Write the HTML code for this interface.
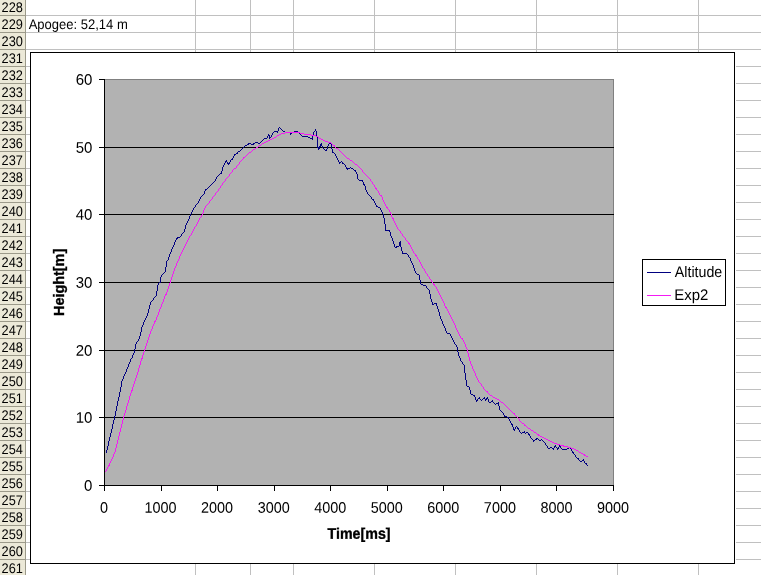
<!DOCTYPE html>
<html><head><meta charset="utf-8"><title>Chart</title>
<style>
html,body{margin:0;padding:0;background:#fff;overflow:hidden}
svg{display:block;will-change:transform}
text{font-family:"Liberation Sans",sans-serif;fill:#000}
.h,.c{font-size:13.97px}
.ax{font-size:15.36px}
.b{font-size:15.36px;font-weight:bold;stroke:#000;stroke-width:.35px}
</style></head><body>
<svg width="761" height="575" viewBox="0 0 761 575">
<rect x="0" y="0" width="761" height="575" fill="#fff"/>
<g fill="#C0C0C0" shape-rendering="crispEdges">
<rect x="26" y="15" width="735" height="1"/><rect x="26" y="32" width="735" height="1"/><rect x="26" y="49" width="735" height="1"/><rect x="26" y="66" width="735" height="1"/><rect x="26" y="83" width="735" height="1"/><rect x="26" y="100" width="735" height="1"/><rect x="26" y="117" width="735" height="1"/><rect x="26" y="134" width="735" height="1"/><rect x="26" y="151" width="735" height="1"/><rect x="26" y="168" width="735" height="1"/><rect x="26" y="185" width="735" height="1"/><rect x="26" y="202" width="735" height="1"/><rect x="26" y="219" width="735" height="1"/><rect x="26" y="236" width="735" height="1"/><rect x="26" y="253" width="735" height="1"/><rect x="26" y="270" width="735" height="1"/><rect x="26" y="287" width="735" height="1"/><rect x="26" y="304" width="735" height="1"/><rect x="26" y="321" width="735" height="1"/><rect x="26" y="338" width="735" height="1"/><rect x="26" y="355" width="735" height="1"/><rect x="26" y="372" width="735" height="1"/><rect x="26" y="389" width="735" height="1"/><rect x="26" y="406" width="735" height="1"/><rect x="26" y="423" width="735" height="1"/><rect x="26" y="440" width="735" height="1"/><rect x="26" y="457" width="735" height="1"/><rect x="26" y="474" width="735" height="1"/><rect x="26" y="491" width="735" height="1"/><rect x="26" y="508" width="735" height="1"/><rect x="26" y="525" width="735" height="1"/><rect x="26" y="542" width="735" height="1"/><rect x="26" y="559" width="735" height="1"/>
<rect x="195" y="0" width="1" height="575"/><rect x="250" y="0" width="1" height="575"/><rect x="293" y="0" width="1" height="575"/><rect x="374" y="0" width="1" height="575"/><rect x="455" y="0" width="1" height="575"/><rect x="536" y="0" width="1" height="575"/><rect x="617" y="0" width="1" height="575"/><rect x="698" y="0" width="1" height="575"/>
</g>
<rect x="0" y="0" width="25" height="575" fill="#ECE9D8"/>
<g fill="#9C9A8A" shape-rendering="crispEdges">
<rect x="25" y="0" width="1" height="575"/><rect x="0" y="15" width="25" height="1"/><rect x="0" y="32" width="25" height="1"/><rect x="0" y="49" width="25" height="1"/><rect x="0" y="66" width="25" height="1"/><rect x="0" y="83" width="25" height="1"/><rect x="0" y="100" width="25" height="1"/><rect x="0" y="117" width="25" height="1"/><rect x="0" y="134" width="25" height="1"/><rect x="0" y="151" width="25" height="1"/><rect x="0" y="168" width="25" height="1"/><rect x="0" y="185" width="25" height="1"/><rect x="0" y="202" width="25" height="1"/><rect x="0" y="219" width="25" height="1"/><rect x="0" y="236" width="25" height="1"/><rect x="0" y="253" width="25" height="1"/><rect x="0" y="270" width="25" height="1"/><rect x="0" y="287" width="25" height="1"/><rect x="0" y="304" width="25" height="1"/><rect x="0" y="321" width="25" height="1"/><rect x="0" y="338" width="25" height="1"/><rect x="0" y="355" width="25" height="1"/><rect x="0" y="372" width="25" height="1"/><rect x="0" y="389" width="25" height="1"/><rect x="0" y="406" width="25" height="1"/><rect x="0" y="423" width="25" height="1"/><rect x="0" y="440" width="25" height="1"/><rect x="0" y="457" width="25" height="1"/><rect x="0" y="474" width="25" height="1"/><rect x="0" y="491" width="25" height="1"/><rect x="0" y="508" width="25" height="1"/><rect x="0" y="525" width="25" height="1"/><rect x="0" y="542" width="25" height="1"/><rect x="0" y="559" width="25" height="1"/>
</g>
<text class="h" text-anchor="middle" transform="translate(12.25 12.00) rotate(0.05) scale(0.9163 1)">228</text><text class="h" text-anchor="middle" transform="translate(12.25 29.00) rotate(0.05) scale(0.9163 1)">229</text><text class="h" text-anchor="middle" transform="translate(12.25 46.00) rotate(0.05) scale(0.9163 1)">230</text><text class="h" text-anchor="middle" transform="translate(12.25 63.00) rotate(0.05) scale(0.9163 1)">231</text><text class="h" text-anchor="middle" transform="translate(12.25 80.00) rotate(0.05) scale(0.9163 1)">232</text><text class="h" text-anchor="middle" transform="translate(12.25 97.00) rotate(0.05) scale(0.9163 1)">233</text><text class="h" text-anchor="middle" transform="translate(12.25 114.00) rotate(0.05) scale(0.9163 1)">234</text><text class="h" text-anchor="middle" transform="translate(12.25 131.00) rotate(0.05) scale(0.9163 1)">235</text><text class="h" text-anchor="middle" transform="translate(12.25 148.00) rotate(0.05) scale(0.9163 1)">236</text><text class="h" text-anchor="middle" transform="translate(12.25 165.00) rotate(0.05) scale(0.9163 1)">237</text><text class="h" text-anchor="middle" transform="translate(12.25 182.00) rotate(0.05) scale(0.9163 1)">238</text><text class="h" text-anchor="middle" transform="translate(12.25 199.00) rotate(0.05) scale(0.9163 1)">239</text><text class="h" text-anchor="middle" transform="translate(12.25 216.00) rotate(0.05) scale(0.9163 1)">240</text><text class="h" text-anchor="middle" transform="translate(12.25 233.00) rotate(0.05) scale(0.9163 1)">241</text><text class="h" text-anchor="middle" transform="translate(12.25 250.00) rotate(0.05) scale(0.9163 1)">242</text><text class="h" text-anchor="middle" transform="translate(12.25 267.00) rotate(0.05) scale(0.9163 1)">243</text><text class="h" text-anchor="middle" transform="translate(12.25 284.00) rotate(0.05) scale(0.9163 1)">244</text><text class="h" text-anchor="middle" transform="translate(12.25 301.00) rotate(0.05) scale(0.9163 1)">245</text><text class="h" text-anchor="middle" transform="translate(12.25 318.00) rotate(0.05) scale(0.9163 1)">246</text><text class="h" text-anchor="middle" transform="translate(12.25 335.00) rotate(0.05) scale(0.9163 1)">247</text><text class="h" text-anchor="middle" transform="translate(12.25 352.00) rotate(0.05) scale(0.9163 1)">248</text><text class="h" text-anchor="middle" transform="translate(12.25 369.00) rotate(0.05) scale(0.9163 1)">249</text><text class="h" text-anchor="middle" transform="translate(12.25 386.00) rotate(0.05) scale(0.9163 1)">250</text><text class="h" text-anchor="middle" transform="translate(12.25 403.00) rotate(0.05) scale(0.9163 1)">251</text><text class="h" text-anchor="middle" transform="translate(12.25 420.00) rotate(0.05) scale(0.9163 1)">252</text><text class="h" text-anchor="middle" transform="translate(12.25 437.00) rotate(0.05) scale(0.9163 1)">253</text><text class="h" text-anchor="middle" transform="translate(12.25 454.00) rotate(0.05) scale(0.9163 1)">254</text><text class="h" text-anchor="middle" transform="translate(12.25 471.00) rotate(0.05) scale(0.9163 1)">255</text><text class="h" text-anchor="middle" transform="translate(12.25 488.00) rotate(0.05) scale(0.9163 1)">256</text><text class="h" text-anchor="middle" transform="translate(12.25 505.00) rotate(0.05) scale(0.9163 1)">257</text><text class="h" text-anchor="middle" transform="translate(12.25 522.00) rotate(0.05) scale(0.9163 1)">258</text><text class="h" text-anchor="middle" transform="translate(12.25 539.00) rotate(0.05) scale(0.9163 1)">259</text><text class="h" text-anchor="middle" transform="translate(12.25 556.00) rotate(0.05) scale(0.9163 1)">260</text><text class="h" text-anchor="middle" transform="translate(12.25 573.00) rotate(0.05) scale(0.9163 1)">261</text>
<text class="c" transform="translate(28.65 29.00) rotate(0.05) scale(0.9317 1)">Apogee: 52,14 m</text>
<rect x="30.5" y="52.5" width="704" height="511" fill="#fff" stroke="#000" stroke-width="1" shape-rendering="crispEdges"/>
<rect x="735" y="52" width="1" height="512" fill="#fff"/>
<rect x="104.5" y="79.5" width="509" height="406" fill="#B2B2B2" stroke="#808080" stroke-width="1" shape-rendering="crispEdges"/>
<g fill="#000" shape-rendering="crispEdges">
<rect x="99" y="485" width="5" height="1"/><rect x="104" y="417" width="510" height="1"/><rect x="99" y="417" width="5" height="1"/><rect x="104" y="350" width="510" height="1"/><rect x="99" y="350" width="5" height="1"/><rect x="104" y="282" width="510" height="1"/><rect x="99" y="282" width="5" height="1"/><rect x="104" y="214" width="510" height="1"/><rect x="99" y="214" width="5" height="1"/><rect x="104" y="147" width="510" height="1"/><rect x="99" y="147" width="5" height="1"/><rect x="99" y="79" width="5" height="1"/>
<rect x="104" y="79" width="1" height="407"/><rect x="104" y="485" width="510" height="1"/>
<rect x="104" y="485" width="1" height="6"/><rect x="161" y="485" width="1" height="6"/><rect x="217" y="485" width="1" height="6"/><rect x="274" y="485" width="1" height="6"/><rect x="330" y="485" width="1" height="6"/><rect x="387" y="485" width="1" height="6"/><rect x="443" y="485" width="1" height="6"/><rect x="500" y="485" width="1" height="6"/><rect x="556" y="485" width="1" height="6"/><rect x="613" y="485" width="1" height="6"/>
</g>
<path fill="none" stroke="#000080" stroke-width="1" shape-rendering="crispEdges" d="M274 131.5h4M283 131.5h2M294 131.5h4M285 132.5h5M292 132.5h2M290 133.5h2M268 135.5h2M302 136.5h6M269 137.5h2M308 137.5h2M264 138.5h3M310 138.5h3M255 142.5h3M329 142.5h2M248 143.5h3M253 143.5h2M258 143.5h2M329 143.5h2M247 144.5h2M251 144.5h3M320 144.5h2M245 145.5h2M320 145.5h2M319 146.5h2M317 147.5h3M318 148.5h2M325 150.5h2M238 151.5h2M332 152.5h2M236 153.5h2M234 154.5h2M231 159.5h2M225 161.5h2M339 162.5h2M227 163.5h3M342 163.5h2M346 168.5h4M351 168.5h2M354 170.5h2M220 173.5h2M359 180.5h4M363 184.5h2M205 189.5h2M372 199.5h2M376 206.5h2M378 207.5h2M385 230.5h5M177 237.5h3M176 238.5h2M399 242.5h2M399 243.5h2M399 244.5h2M399 245.5h2M396 246.5h3M395 247.5h2M402 253.5h5M417 274.5h2M159 282.5h2M421 284.5h2M423 285.5h3M434 303.5h3M432 304.5h2M447 333.5h3M467 386.5h2M471 394.5h2M473 395.5h2M478 398.5h2M483 398.5h2M486 398.5h2M485 399.5h2M476 400.5h2M491 401.5h2M489 402.5h2M496 403.5h3M504 416.5h3M507 417.5h2M511 424.5h2M517 428.5h2M513 429.5h2M522 432.5h3M526 432.5h2M528 434.5h2M536 438.5h2M535 439.5h2M533 440.5h2M539 440.5h2M554 446.5h2M559 446.5h2M550 447.5h2M548 448.5h2M552 448.5h2M557 448.5h2M567 448.5h2M562 449.5h5M572 452.5h2M577 458.5h2M582 460.5h2M580 461.5h2M585 463.5h2M106.5 450v3M107.5 446v4M108.5 441v5M109.5 437v4M110.5 433v4M111.5 429v4M112.5 424v5M113.5 420v4M114.5 416v4M115.5 411v5M116.5 406v5M117.5 401v5M118.5 397v4M119.5 392v5M120.5 387v5M121.5 381v6M122.5 379v2M123.5 376v3M124.5 374v2M125.5 372v2M126.5 369v3M127.5 367v2M128.5 364v3M129.5 362v2M130.5 359v3M131.5 358v1M132.5 355v3M133.5 353v2M134.5 349v4M135.5 344v5M136.5 342v2M137.5 341v1M138.5 339v2M139.5 336v3M140.5 332v4M141.5 327v5M142.5 325v2M143.5 322v3M144.5 320v2M145.5 318v2M146.5 316v2M147.5 313v3M148.5 309v4M149.5 305v4M150.5 302v3M151.5 301v1M152.5 300v1M153.5 298v2M154.5 297v1M155.5 296v1M156.5 291v5M157.5 285v6M158.5 283v2M160.5 277v5M161.5 275v2M162.5 274v1M163.5 273v1M164.5 272v1M165.5 267v5M166.5 261v6M167.5 260v1M168.5 257v3M169.5 254v3M170.5 252v2M171.5 249v3M172.5 247v2M173.5 245v2M174.5 242v3M175.5 240v2M176.5 239v1M180.5 236v1M181.5 234v2M182.5 233v1M183.5 232v1M184.5 229v3M185.5 225v4M186.5 223v2M187.5 221v2M188.5 219v2M189.5 216v3M190.5 214v2M191.5 212v2M192.5 210v2M193.5 208v2M194.5 207v1M195.5 205v2M196.5 204v1M197.5 203v1M198.5 201v2M199.5 199v2M200.5 197v2M201.5 196v1M202.5 195v1M203.5 194v1M204.5 191v3M205.5 190v1M207.5 188v1M208.5 187v1M209.5 186v1M210.5 185v1M211.5 184v1M212.5 183v1M213.5 182v1M214.5 181v1M215.5 179v2M216.5 177v2M217.5 176v1M218.5 175v1M219.5 174v1M221.5 171v2M222.5 167v4M223.5 165v2M224.5 163v2M225.5 162v1M226.5 160v1M227.5 162v1M228.5 164v1M229.5 162v1M230.5 160v2M232.5 158v1M233.5 156v2M234.5 155v1M237.5 152v1M240.5 150v1M241.5 149v1M242.5 148v1M243.5 147v1M244.5 146v1M260.5 142v1M261.5 141v1M262.5 140v1M263.5 139v1M267.5 136v2M268.5 134v1M269.5 136v1M269.5 138v1M271.5 135v2M272.5 133v2M273.5 132v1M277.5 132v1M278.5 128v3M279.5 127v1M280.5 128v1M281.5 129v1M282.5 130v1M290.5 134v1M298.5 132v1M299.5 133v1M300.5 134v1M301.5 135v1M312.5 136v2M312.5 139v1M313.5 132v4M314.5 131v1M315.5 129v2M316.5 131v6M317.5 137v10M318.5 149v1M321.5 143v1M322.5 146v2M323.5 148v1M324.5 149v1M326.5 149v1M327.5 146v3M328.5 144v2M331.5 144v5M332.5 149v3M334.5 153v1M335.5 154v2M336.5 156v2M337.5 158v2M338.5 160v2M339.5 163v1M341.5 161v1M342.5 162v1M344.5 164v1M345.5 165v2M346.5 167v1M347.5 169v1M350.5 167v1M353.5 169v1M355.5 171v1M356.5 172v2M357.5 174v5M358.5 179v1M362.5 181v1M363.5 182v2M364.5 185v1M365.5 186v4M366.5 190v2M367.5 192v2M368.5 194v1M369.5 195v1M370.5 196v1M371.5 197v2M373.5 200v1M374.5 201v2M375.5 203v2M376.5 205v1M380.5 208v2M381.5 210v2M382.5 212v2M383.5 214v4M384.5 218v6M385.5 224v6M389.5 231v1M390.5 232v4M391.5 236v2M392.5 238v3M393.5 241v3M394.5 244v3M400.5 241v1M400.5 246v1M401.5 247v4M402.5 251v2M407.5 254v1M408.5 255v2M409.5 257v1M410.5 258v3M411.5 261v2M412.5 263v2M413.5 265v3M414.5 268v3M415.5 271v2M416.5 273v1M419.5 275v5M420.5 280v4M426.5 286v2M427.5 288v1M428.5 289v1M429.5 290v4M430.5 294v5M431.5 299v3M432.5 302v2M436.5 304v2M437.5 306v3M438.5 309v3M439.5 312v4M440.5 316v3M441.5 319v2M442.5 321v3M443.5 324v2M444.5 326v2M445.5 328v3M446.5 331v2M450.5 334v2M451.5 336v2M452.5 338v2M453.5 340v2M454.5 342v2M455.5 344v1M456.5 345v2M457.5 347v5M458.5 352v4M459.5 356v2M460.5 358v3M461.5 361v1M462.5 362v2M463.5 364v1M464.5 365v8M465.5 373v7M466.5 380v6M469.5 387v3M470.5 390v4M474.5 396v1M475.5 397v3M476.5 401v1M477.5 399v1M479.5 397v1M480.5 399v1M481.5 400v1M482.5 399v1M484.5 397v1M485.5 400v1M487.5 397v1M488.5 399v3M492.5 400v1M493.5 402v1M494.5 403v1M495.5 404v1M498.5 402v1M498.5 404v2M499.5 406v4M500.5 410v1M501.5 411v1M502.5 412v1M503.5 413v2M504.5 415v1M508.5 418v1M509.5 419v2M510.5 421v2M511.5 423v1M512.5 425v2M513.5 427v2M514.5 430v1M515.5 427v2M516.5 426v1M517.5 427v1M518.5 429v1M519.5 430v2M520.5 432v1M521.5 433v1M524.5 431v1M525.5 433v1M528.5 433v1M529.5 435v1M530.5 436v2M531.5 438v1M532.5 439v1M533.5 441v1M538.5 439v1M541.5 439v1M542.5 440v1M543.5 441v1M544.5 442v1M545.5 443v2M546.5 445v1M547.5 446v2M553.5 449v1M554.5 447v1M555.5 445v1M556.5 447v1M557.5 449v1M558.5 447v1M559.5 445v1M560.5 447v1M561.5 448v1M569.5 447v1M570.5 448v1M571.5 449v2M572.5 451v1M573.5 453v1M574.5 454v1M575.5 455v2M576.5 457v1M578.5 459v1M579.5 460v1M583.5 459v1M584.5 461v2M586.5 464v1M587.5 465v1"/>
<path fill="none" stroke="#F41AF4" stroke-width="1" shape-rendering="crispEdges" d="M285 132.5h15M281 133.5h4M300 133.5h4M279 134.5h2M304 134.5h7M277 135.5h2M311 135.5h5M316 136.5h2M274 137.5h2M272 138.5h2M319 138.5h2M270 139.5h2M321 139.5h2M268 140.5h2M323 140.5h2M266 141.5h2M325 141.5h3M264 142.5h2M328 142.5h3M262 143.5h2M259 145.5h2M333 145.5h2M256 147.5h2M336 148.5h2M253 149.5h2M249 152.5h2M243 157.5h2M347 158.5h2M350 160.5h2M355 164.5h2M234 168.5h2M375 188.5h2M380 195.5h2M386 207.5h2M392 218.5h2M408 243.5h2M415 255.5h2M433 284.5h2M165 294.5h2M445 307.5h2M154 321.5h2M461 338.5h2M141 358.5h2M131 390.5h2M486 391.5h2M490 395.5h2M493 397.5h2M495 398.5h2M497 399.5h2M501 402.5h2M513 413.5h2M522 423.5h2M524 425.5h2M528 428.5h2M531 430.5h2M534 432.5h2M537 434.5h2M538 435.5h2M540 436.5h2M542 437.5h2M544 438.5h2M546 439.5h2M548 440.5h2M550 441.5h2M552 442.5h2M554 443.5h3M557 444.5h3M560 445.5h4M563 446.5h5M568 447.5h3M571 448.5h3M574 449.5h2M576 450.5h2M579 452.5h2M581 453.5h2M583 454.5h2M584 455.5h2M586 456.5h2M108 465.5h2M105.5 471v1M106.5 469v2M107.5 467v2M108.5 466v1M109.5 463v2M110.5 461v2M111.5 459v2M112.5 457v2M113.5 454v3M114.5 452v2M115.5 448v4M116.5 444v4M117.5 440v4M118.5 436v4M119.5 432v4M120.5 428v4M121.5 424v4M122.5 420v4M123.5 416v4M124.5 413v3M125.5 410v3M126.5 406v4M127.5 403v3M128.5 400v3M129.5 396v4M130.5 393v3M131.5 391v2M132.5 387v3M133.5 384v3M134.5 381v3M135.5 378v3M136.5 375v3M137.5 372v3M138.5 368v4M139.5 365v3M140.5 361v4M141.5 359v2M142.5 355v3M143.5 352v3M144.5 349v3M145.5 346v3M146.5 343v3M147.5 340v3M148.5 337v3M149.5 334v3M150.5 331v3M151.5 329v2M152.5 326v3M153.5 324v2M154.5 322v2M155.5 320v1M156.5 317v3M157.5 315v2M158.5 312v3M159.5 309v3M160.5 307v2M161.5 304v3M162.5 302v2M163.5 299v3M164.5 296v3M165.5 295v1M166.5 292v2M167.5 289v3M168.5 286v3M169.5 283v3M170.5 280v3M171.5 277v3M172.5 274v3M173.5 271v3M174.5 268v3M175.5 266v2M176.5 263v3M177.5 261v2M178.5 259v2M179.5 256v3M180.5 254v2M181.5 252v2M182.5 250v2M183.5 248v2M184.5 246v2M185.5 244v2M186.5 242v2M187.5 240v2M188.5 238v2M189.5 236v2M190.5 235v1M191.5 233v2M192.5 231v2M193.5 229v2M194.5 227v2M195.5 226v1M196.5 224v2M197.5 222v2M198.5 220v2M199.5 218v2M200.5 217v1M201.5 215v2M202.5 213v2M203.5 210v3M204.5 208v2M205.5 206v2M206.5 205v1M207.5 204v1M208.5 203v1M209.5 201v2M210.5 200v1M211.5 199v1M212.5 197v2M213.5 196v1M214.5 195v1M215.5 193v2M216.5 192v1M217.5 191v1M218.5 189v2M219.5 188v1M220.5 186v2M221.5 185v1M222.5 183v2M223.5 182v1M224.5 181v1M225.5 179v2M226.5 178v1M227.5 177v1M228.5 176v1M229.5 174v2M230.5 173v1M231.5 172v1M232.5 170v2M233.5 169v1M236.5 166v2M237.5 165v1M238.5 164v1M239.5 162v2M240.5 161v1M241.5 160v1M242.5 159v1M243.5 158v1M245.5 156v1M246.5 155v1M247.5 154v1M248.5 153v1M251.5 151v1M252.5 150v1M255.5 148v1M258.5 146v1M261.5 144v1M276.5 136v1M318.5 137v1M331.5 143v1M332.5 144v1M334.5 146v1M335.5 147v1M338.5 149v1M339.5 150v1M340.5 151v1M341.5 152v1M342.5 153v1M343.5 154v1M344.5 155v1M345.5 156v1M346.5 157v1M349.5 159v1M352.5 161v1M353.5 162v1M354.5 163v1M357.5 165v1M358.5 166v1M359.5 167v1M360.5 168v1M361.5 169v1M362.5 170v2M363.5 172v1M364.5 173v1M365.5 174v1M366.5 175v1M367.5 176v1M368.5 177v1M369.5 178v1M370.5 179v2M371.5 181v1M372.5 182v2M373.5 184v1M374.5 185v2M375.5 187v1M376.5 189v1M377.5 190v1M378.5 191v2M379.5 193v2M381.5 196v1M382.5 197v3M383.5 200v2M384.5 202v2M385.5 204v2M386.5 206v1M387.5 208v1M388.5 209v1M389.5 210v2M390.5 212v2M391.5 214v3M392.5 217v1M393.5 219v2M394.5 221v2M395.5 223v2M396.5 225v2M397.5 227v2M398.5 229v1M399.5 230v1M400.5 231v2M401.5 233v1M402.5 234v2M403.5 236v1M404.5 237v1M405.5 238v2M406.5 240v1M407.5 241v1M408.5 242v1M409.5 244v1M410.5 245v2M411.5 247v2M412.5 249v2M413.5 251v2M414.5 253v1M415.5 254v1M416.5 256v1M417.5 257v2M418.5 259v1M419.5 260v2M420.5 262v2M421.5 264v2M422.5 266v2M423.5 268v1M424.5 269v2M425.5 271v2M426.5 273v1M427.5 274v2M428.5 276v1M429.5 277v2M430.5 279v1M431.5 280v2M432.5 282v1M433.5 283v1M434.5 285v1M435.5 286v1M436.5 287v2M437.5 289v2M438.5 291v2M439.5 293v2M440.5 295v2M441.5 297v2M442.5 299v2M443.5 301v2M444.5 303v3M445.5 306v1M446.5 308v1M447.5 309v2M448.5 311v2M449.5 313v2M450.5 315v2M451.5 317v2M452.5 319v2M453.5 321v2M454.5 323v2M455.5 325v3M456.5 328v2M457.5 330v2M458.5 332v2M459.5 334v2M460.5 336v2M462.5 339v1M463.5 340v2M464.5 342v2M465.5 344v3M466.5 347v2M467.5 349v4M468.5 353v4M469.5 357v4M470.5 361v3M471.5 364v2M472.5 366v3M473.5 369v2M474.5 371v2M475.5 373v3M476.5 376v2M477.5 378v2M478.5 380v2M479.5 382v1M480.5 383v1M481.5 384v2M482.5 386v1M483.5 387v2M484.5 389v1M485.5 390v1M487.5 392v1M488.5 393v1M489.5 394v1M492.5 396v1M499.5 400v1M500.5 401v1M503.5 403v1M504.5 404v1M505.5 405v1M506.5 406v1M507.5 407v1M508.5 408v1M509.5 409v1M510.5 410v1M511.5 411v1M512.5 412v1M514.5 414v1M515.5 415v1M516.5 416v1M517.5 417v1M518.5 418v1M519.5 419v2M520.5 421v1M521.5 422v1M524.5 424v1M526.5 426v1M527.5 427v1M530.5 429v1M533.5 431v1M536.5 433v1M578.5 451v1"/>
<text class="ax" text-anchor="end" transform="translate(92.43 490.70) rotate(0.05) scale(0.9758 1)">0</text><text class="ax" text-anchor="end" transform="translate(92.43 422.70) rotate(0.05) scale(0.9758 1)">10</text><text class="ax" text-anchor="end" transform="translate(92.43 355.70) rotate(0.05) scale(0.9758 1)">20</text><text class="ax" text-anchor="end" transform="translate(92.43 287.70) rotate(0.05) scale(0.9758 1)">30</text><text class="ax" text-anchor="end" transform="translate(92.43 219.70) rotate(0.05) scale(0.9758 1)">40</text><text class="ax" text-anchor="end" transform="translate(92.43 152.70) rotate(0.05) scale(0.9758 1)">50</text><text class="ax" text-anchor="end" transform="translate(92.43 84.70) rotate(0.05) scale(0.9758 1)">60</text>
<text class="ax" text-anchor="middle" transform="translate(104.00 512.70) rotate(0.05) scale(0.9390 1)">0</text><text class="ax" text-anchor="middle" transform="translate(160.56 512.70) rotate(0.05) scale(0.9390 1)">1000</text><text class="ax" text-anchor="middle" transform="translate(217.11 512.70) rotate(0.05) scale(0.9390 1)">2000</text><text class="ax" text-anchor="middle" transform="translate(273.67 512.70) rotate(0.05) scale(0.9390 1)">3000</text><text class="ax" text-anchor="middle" transform="translate(330.22 512.70) rotate(0.05) scale(0.9390 1)">4000</text><text class="ax" text-anchor="middle" transform="translate(386.78 512.70) rotate(0.05) scale(0.9390 1)">5000</text><text class="ax" text-anchor="middle" transform="translate(443.33 512.70) rotate(0.05) scale(0.9390 1)">6000</text><text class="ax" text-anchor="middle" transform="translate(499.89 512.70) rotate(0.05) scale(0.9390 1)">7000</text><text class="ax" text-anchor="middle" transform="translate(556.44 512.70) rotate(0.05) scale(0.9390 1)">8000</text><text class="ax" text-anchor="middle" transform="translate(613.00 512.70) rotate(0.05) scale(0.9390 1)">9000</text>
<text class="b" text-anchor="middle" transform="translate(359.06 538.75) rotate(0.05) scale(0.9270 1)">Time[ms]</text>
<text class="b" text-anchor="middle" transform="translate(64.00 282.40) rotate(-90) scale(0.9380 1)">Height[m]</text>
<rect x="642.5" y="259.5" width="83" height="46" fill="#fff" stroke="#000" stroke-width="1" shape-rendering="crispEdges"/>
<rect x="647" y="272" width="24" height="1" fill="#000080" shape-rendering="crispEdges"/><rect x="647" y="295" width="24" height="1" fill="#F41AF4" shape-rendering="crispEdges"/>
<text class="ax" transform="translate(674.80 277.00) rotate(0.05) scale(0.9260 1)">Altitude</text><text class="ax" transform="translate(674.27 300.00) rotate(0.05) scale(0.9735 1)">Exp2</text>
</svg>
</body></html>
